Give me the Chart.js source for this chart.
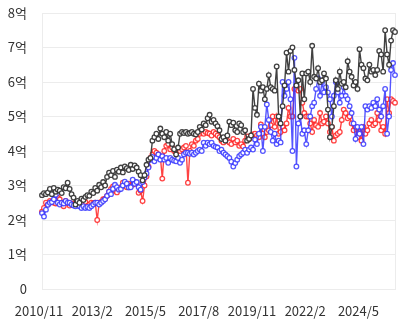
<!DOCTYPE html>
<html>
<head>
  <title>월별 추이</title>
  <script src="https://cdn.jsdelivr.net/npm/chart.js"></script>
  <style>
    body { margin: 0; background: #fff; }
    .chart-box { width: 402px; height: 323px; position: relative; }
  </style>
</head>
<body>
  <div class="chart-box">
    <canvas id="trendChart"></canvas>
  </div>

  <script>
    // monthly series start at 2010/11, values in 억
    const startYear = 2010;
    const startMonth = 11;
    const tickLabels = ['2010/11', '2013/2', '2015/5', '2017/8', '2019/11', '2022/2', '2024/5'];

    const blackValues = [
      2.72, 2.78, 2.75, 2.8, 2.9, 2.75, 2.93, 2.82, 2.88, 2.85,
      2.78, 2.95, 2.92, 3.08, 2.9, 2.75, 2.65, 2.45, 2.55, 2.5,
      2.62, 2.58, 2.67, 2.72, 2.7, 2.82, 2.78, 2.93, 2.85, 3.02,
      2.95, 3.1, 3.0, 3.25, 3.37, 3.3, 3.42, 3.25, 3.46, 3.4,
      3.52, 3.38, 3.55, 3.5, 3.45, 3.6, 3.48, 3.58, 3.52, 3.4,
      3.3, 3.15, 3.3, 3.6, 3.75, 3.8, 4.3, 4.4, 4.5, 4.35,
      4.65, 4.5, 4.4, 4.55, 4.3, 4.5, 4.2, 4.05, 3.9, 4.1,
      4.5, 4.55, 4.52, 4.55, 4.5, 4.52, 4.55, 4.5, 4.48, 4.55,
      4.7, 4.62, 4.8, 4.75, 4.95, 5.05, 4.85, 4.9, 4.8, 4.72,
      4.6, 4.35, 4.4, 4.3, 4.45, 4.85, 4.75, 4.82, 4.6, 4.55,
      4.8, 4.75, 4.55, 4.6, 4.3, 4.35, 4.45, 5.8, 5.25, 5.05,
      5.95, 5.75, 5.85, 5.5, 5.8, 6.2, 5.85, 5.8, 5.75, 6.45,
      5.0, 4.8, 5.3, 5.9, 6.85, 6.3, 6.9, 7.0, 6.35, 5.9,
      6.05, 5.0, 6.25, 5.5, 6.25, 6.3, 6.0, 7.05, 6.15, 6.1,
      6.4, 6.0, 6.05, 6.25, 6.1, 5.2, 4.4, 4.7, 5.3, 6.05,
      5.8, 6.3, 5.95, 6.0, 5.85, 6.6, 6.3, 6.15, 5.9, 6.0,
      5.8, 6.95, 6.5, 6.4, 6.1, 6.05, 6.5, 6.3, 6.35, 6.2,
      6.35, 6.9, 6.8, 6.3, 7.5, 6.8, 6.5, 7.2, 7.5, 7.45
    ];

    const redValues = [
      2.24, 2.35, 2.5, 2.45, 2.55, 2.52, 2.5, 2.48, 2.65, 2.6,
      2.5, 2.4, 2.55, 2.5, 2.42, 2.48, 2.45, 2.5, 2.45, 2.42,
      2.5, 2.48, 2.52, 2.4, 2.45, 2.5, 2.48, 2.5, 2.0, 2.5,
      2.52, 2.6, 2.62, 2.7, 2.82, 2.9, 2.97, 2.85, 2.8, 2.9,
      2.95, 3.08, 3.0, 2.95, 3.05, 3.0, 3.02, 3.1, 3.05, 2.79,
      2.85, 2.55, 3.0, 3.26, 3.55, 3.8, 3.9, 4.0, 3.95, 3.9,
      3.85, 3.2, 4.0, 4.15, 4.2, 4.05, 4.1, 4.0, 3.95, 4.05,
      4.0, 4.05, 4.1, 4.15, 3.08, 4.0, 4.2, 4.15, 4.3, 4.35,
      4.5, 4.55, 4.5, 4.55, 4.52, 4.5, 4.45, 4.55, 4.5, 4.45,
      4.4, 4.3, 4.25, 4.35, 4.3, 4.25, 4.2, 4.35, 4.25, 4.3,
      4.15, 4.2, 4.13, 4.3, 4.42, 4.35, 4.45, 4.48, 4.5, 4.45,
      4.4, 4.77, 4.5, 4.4, 4.55, 4.6, 4.75, 5.0, 4.7, 5.0,
      4.5, 4.55, 4.7, 4.6, 4.8, 5.25, 5.0, 5.0, 5.8, 5.8,
      5.75, 5.8, 5.4, 5.1, 5.0, 5.0, 4.8, 4.55, 4.9, 4.75,
      4.7, 5.1, 4.8, 4.85, 5.0, 4.8, 4.55, 4.7, 4.3, 4.45,
      4.5, 4.55, 4.9, 5.2, 5.1, 4.95, 5.0, 4.8, 4.6, 4.7,
      4.4, 4.55, 4.3, 4.7, 4.5, 4.6, 4.8, 4.9, 4.75, 4.8,
      5.1, 4.9, 4.6, 4.7, 4.5, 5.5, 5.1, 5.5, 5.45, 5.4
    ];

    const blueValues = [
      2.2, 2.1, 2.3, 2.44, 2.5, 2.52, 2.6, 2.73, 2.5, 2.45,
      2.5, 2.48, 2.55, 2.5, 2.5, 2.45, 2.42, 2.4, 2.45, 2.4,
      2.35, 2.4, 2.35, 2.38, 2.35, 2.4, 2.45, 2.5, 2.5, 2.45,
      2.5, 2.55, 2.6, 2.7, 2.82, 2.75, 2.9, 3.02, 2.95, 2.88,
      2.9, 3.0, 3.11, 3.05, 2.94, 2.95, 3.17, 3.05, 3.1, 2.95,
      2.88, 3.1, 3.23, 3.35, 3.52, 3.75, 3.83, 3.7, 3.8, 3.9,
      3.75, 3.85, 3.75, 3.8, 3.66, 3.8, 3.75, 3.72, 3.7, 3.8,
      3.66, 3.75, 3.9, 3.95, 3.95, 3.92, 3.95, 3.9, 3.95, 4.0,
      4.04, 4.0, 4.24, 4.15, 4.24, 4.2, 4.24, 4.15, 4.12, 4.1,
      4.0, 4.04, 3.95, 3.9, 3.85, 3.8, 3.69, 3.55, 3.65, 3.75,
      3.85, 3.9, 3.95, 4.04, 3.95, 4.04, 4.1, 4.04, 4.33, 4.2,
      4.5, 4.7, 4.0, 4.7, 5.35, 4.9, 4.55, 4.3, 4.5, 4.2,
      4.3, 4.25, 6.0, 5.6, 5.8, 6.0, 5.5, 4.0, 6.7, 3.55,
      4.8, 5.0, 4.5, 4.6, 4.2, 4.6, 5.0, 5.3, 5.4, 5.8,
      6.1, 5.6, 6.0, 5.7, 5.85, 5.7, 5.5, 5.0, 5.6, 6.0,
      5.7, 5.4, 5.6, 5.85, 5.6, 5.5, 5.3, 5.1, 4.8, 4.35,
      4.7, 4.5, 4.7, 4.2, 5.3, 5.2, 5.3, 5.25, 5.4, 5.3,
      5.5, 5.2, 5.0, 5.3, 5.8, 4.5, 5.0, 6.35, 6.55, 6.2
    ];

    // one category per month
    const months = [];
    for (let i = 0; i < blackValues.length; i++) {
      const m = startMonth - 1 + i;
      months.push((startYear + Math.floor(m / 12)) + '/' + (m % 12 + 1));
    }

    const fontFamily = "'Noto Sans CJK KR', 'Noto Sans', sans-serif";

    function lineSet(values, color) {
      return {
        data: values,
        borderColor: color,
        borderWidth: 1.4,
        pointRadius: 2.3,
        pointBorderWidth: 1.3,
        pointBorderColor: color,
        pointBackgroundColor: '#fff',
        tension: 0
      };
    }

    new Chart(document.getElementById('trendChart').getContext('2d'), {
      type: 'line',
      data: {
        labels: months,
        datasets: [
          lineSet(blackValues, 'rgba(55, 55, 55, 0.95)'),
          lineSet(blueValues, 'rgba(55, 55, 255, 0.85)'),
          lineSet(redValues, 'rgba(255, 35, 35, 0.85)')
        ]
      },
      options: {
        responsive: true,
        maintainAspectRatio: false,
        animation: false,
        layout: { autoPadding: false, padding: { top: 13, right: 7, left: 4, bottom: 0 } },
        plugins: {
          legend: { display: false },
          tooltip: { enabled: false }
        },
        scales: {
          x: {
            afterFit: (scale) => {
              scale.height = 34;
              scale.paddingLeft = 0;
              scale.paddingRight = 0;
            },
            grid: {
              drawTicks: false,
              color: (ctx) => (ctx.index === 0 || ctx.index === months.length - 1) ? '#ececec' : 'rgba(0,0,0,0)'
            },
            border: { color: '#ececec' },
            ticks: {
              autoSkip: false,
              maxRotation: 0,
              minRotation: 0,
              padding: 14,
              labelOffset: -3,
              color: '#333',
              font: { family: fontFamily, size: 13 },
              callback: function (value, index) {
                const label = months[index];
                return tickLabels.includes(label) ? label : '';
              }
            }
          },
          y: {
            min: 0,
            max: 8,
            afterFit: (scale) => {
              scale.width = 38;
              scale.paddingTop = 0;
              scale.paddingBottom = 0;
            },
            grid: { drawTicks: false, color: '#ececec' },
            border: { color: '#ececec' },
            ticks: {
              stepSize: 1,
              padding: 15,
              color: '#333',
              font: { family: fontFamily, size: 13 },
              callback: (v) => v === 0 ? '0' : v + '억'
            }
          }
        }
      }
    });
  </script>
</body>
</html>
